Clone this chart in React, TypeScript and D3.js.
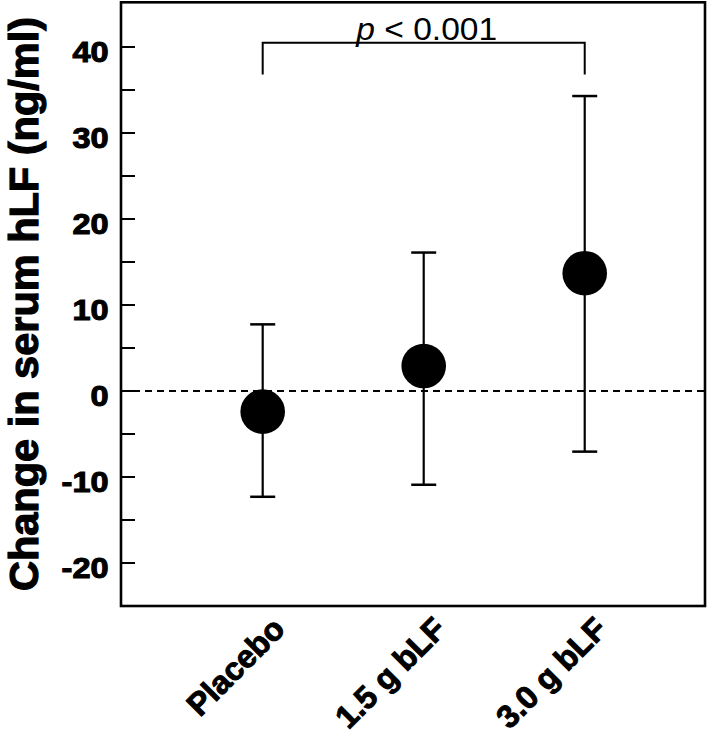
import React from "react";
import * as d3 from "d3";

const categories = ["Placebo", "1.5 g bLF", "3.0 g bLF"];
const means = [-2.4, 2.9, 13.7];
const upper = [7.75, 16.1, 34.3];
const lower = [-12.3, -10.9, -7.05];
const majorTicks = [-20, -10, 0, 10, 20, 30, 40];
const minorTicks = [-15, -5, 5, 15, 25, 35];
const yLabel = "Change in serum hLF (ng/ml)";
const pText = "< 0.001";

const W = 708;
const H = 735;
const L = 121, R = 705, T = 2.3, B = 606;

export default function App() {
  const y = d3.scaleLinear().domain([-25, 45.2]).range([B, T]);
  const x = d3.scaleLinear().domain([0.12, 3.747]).range([L, R]);
  const font = "'Liberation Sans', Arial, Helvetica, sans-serif";
  const tickLen = 14;
  const capHalf = 12.5;
  const bracketY = y(40.5);
  const bracketBottom = y(36.8);
  const x1 = x(1), x3 = x(3);
  return (
    <svg width={W} height={H} style={{ position: "absolute", left: 0, top: 0, background: "#fff" }} fontFamily={font}>
      <rect x={0} y={0} width={W} height={H} fill="#fff" />
      {/* zero line */}
      <line x1={L} x2={R} y1={y(0)} y2={y(0)} stroke="#000" strokeWidth={2} strokeDasharray="7,5" />
      {/* ticks */}
      {majorTicks.map((t) => (
        <g key={"M" + t}>
          <line x1={L} x2={L + tickLen} y1={y(t)} y2={y(t)} stroke="#000" strokeWidth={2} />
          <text
            transform={`translate(108.5,${y(t) + 14.5}) scale(1.1,1)`}
            textAnchor="end"
            fontWeight="bold"
            fontSize={29.5}
            stroke="#000"
            strokeWidth={1.1}
          >
            {t}
          </text>
        </g>
      ))}
      {minorTicks.map((t) => (
        <line key={"m" + t} x1={L} x2={L + tickLen} y1={y(t)} y2={y(t)} stroke="#000" strokeWidth={2} />
      ))}
      {/* error bars and points */}
      {categories.map((c, i) => {
        const cx = x(i + 1);
        return (
          <g key={c}>
            <line x1={cx} x2={cx} y1={y(upper[i])} y2={y(lower[i])} stroke="#000" strokeWidth={2.2} />
            <line x1={cx - capHalf} x2={cx + capHalf} y1={y(upper[i])} y2={y(upper[i])} stroke="#000" strokeWidth={2.5} />
            <line x1={cx - capHalf} x2={cx + capHalf} y1={y(lower[i])} y2={y(lower[i])} stroke="#000" strokeWidth={2.5} />
            <circle cx={cx} cy={y(means[i])} r={22.3} fill="#000" />
            <text
              transform={`translate(${cx + 24},${B + 25}) rotate(-45)`}
              textAnchor="end"
              fontWeight="bold"
              fontSize={32}
              stroke="#000"
              strokeWidth={1}
            >
              {c}
            </text>
          </g>
        );
      })}
      {/* bracket */}
      <path
        d={`M${x1},${bracketBottom}V${bracketY}H${x3}V${bracketBottom}`}
        fill="none"
        stroke="#000"
        strokeWidth={2}
      />
      <text transform={`translate(${(x1 + x3) / 2 + 3},40) scale(1.1,1)`} textAnchor="middle" fontSize={30.5}>
        <tspan fontStyle="italic">p</tspan> {pText}
      </text>
      {/* frame */}
      <rect x={L} y={T} width={R - L} height={B - T} fill="none" stroke="#000" strokeWidth={2.6} />
      {/* y label */}
      <text
        transform={`translate(38,304) rotate(-90)`}
        textAnchor="middle"
        fontWeight="bold"
        fontSize={41.5}
        stroke="#000"
        strokeWidth={1.2}
      >
        {yLabel}
      </text>
    </svg>
  );
}
